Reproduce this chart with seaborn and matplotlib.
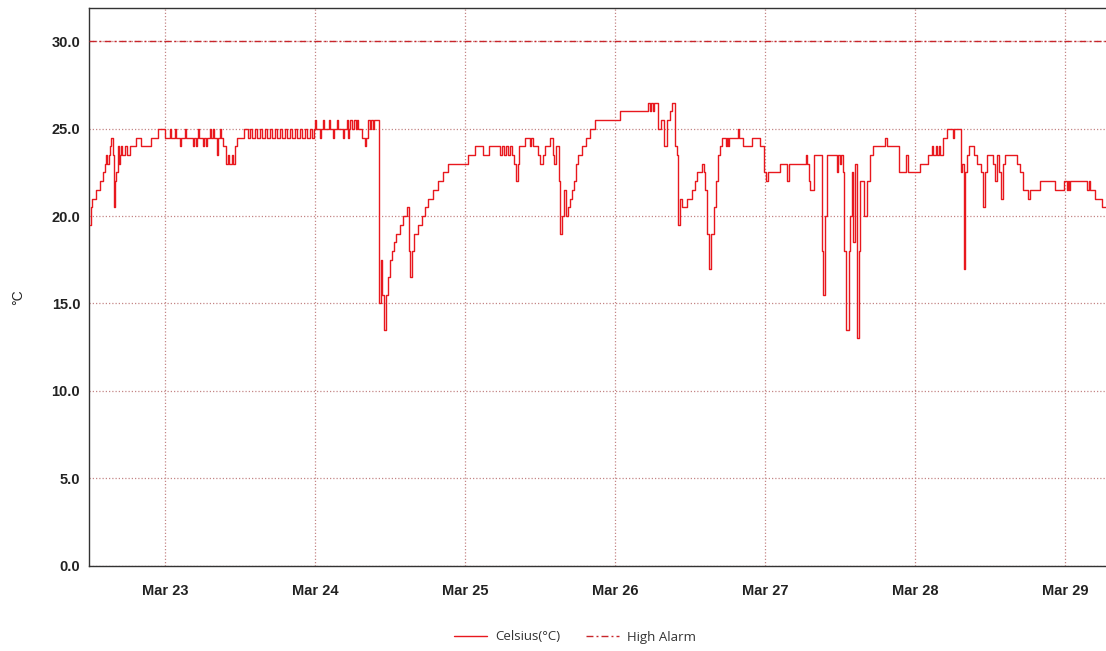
import matplotlib
matplotlib.use("Agg")
import matplotlib.pyplot as plt
import matplotlib.dates as mdates
import matplotlib.ticker as mticker
from matplotlib.lines import Line2D
import pandas as pd
import seaborn as sns

# ---------------- data ----------------
start_time = "2021-03-22 12:00"
# hours after start_time
hours = [
    0.0, 0.2, 0.4, 1.0, 1.6, 2.1, 2.4, 2.6, 2.8, 3.0, 3.2, 3.4, 3.7, 3.8, 4.0, 4.2, 4.5, 4.6, 4.8, 5.0,
    5.2, 5.6, 6.0, 6.4, 7.3, 8.2, 9.8, 10.9, 12.0,
    12.8, 13.0, 13.6, 13.8, 14.4, 14.6, 15.2, 15.4, 16.5, 16.6, 17.0, 17.1, 17.3, 17.4, 18.1, 18.2, 18.6, 18.7,
    19.2, 19.4, 19.7, 19.8, 20.3, 20.5, 20.8, 21.0, 21.3, 21.8, 22.1, 22.2, 22.7, 22.9, 23.2, 23.5, 24.6, 25.3,
    25.6, 25.9, 26.4, 26.7, 27.2, 27.5, 28.0, 28.3, 28.8, 29.1, 29.6, 29.9, 30.4, 30.7, 31.2, 31.5, 32.0, 32.3,
    32.8, 33.1, 33.6, 33.9, 34.4, 34.7, 35.2, 35.5, 35.8,
    36.0, 36.2, 36.8, 37.0, 37.3, 37.4, 38.2, 38.4, 38.9, 39.0, 39.5, 39.7, 40.5, 40.6, 41.1, 41.3, 41.4, 41.6,
    41.9, 42.2, 42.6, 42.7, 42.9, 43.5, 44.0, 44.2, 44.5, 44.8, 45.0, 45.3, 45.4,
    46.2, 46.6, 46.7, 47.0, 47.4, 47.7, 48.0, 48.3, 48.6, 49.0, 49.6, 50.1, 50.7, 51.0, 51.2, 51.5, 51.8, 52.5,
    53.1, 53.6, 54.1, 54.9, 55.7, 56.5, 57.3, 60.5, 61.6, 62.9, 63.8, 65.6, 65.9, 66.2, 66.6, 66.9, 67.2, 67.5,
    67.8, 68.2, 68.5, 68.6, 69.6, 70.4, 70.6, 70.9, 71.7, 72.0, 72.5, 72.8, 73.6, 74.1, 74.2, 74.6, 75.0, 75.2,
    75.5, 75.8, 76.2, 76.5, 76.8, 77.1, 77.4, 77.8, 78.1, 78.7, 79.4, 80.0, 80.8, 84.8,
    89.3, 89.6, 89.8, 90.1, 90.2, 90.9, 91.4, 91.8, 92.3, 92.8, 93.1, 93.6, 93.9,
    94.1, 94.4, 94.7, 95.5, 96.3, 96.8, 97.1, 98.0, 98.2, 98.5, 98.8, 99.0, 99.4, 99.8, 100.2, 100.5,
    100.8, 101.1, 101.8, 101.9, 102.1, 102.2, 103.7, 103.8, 104.5, 105.9, 107.2, 107.8, 108.2, 108.5,
    110.4, 111.5, 111.8, 114.6, 114.8, 115.0, 115.2, 115.8, 117.2, 117.3, 117.6, 117.9, 119.5, 119.7,
    120.0, 120.2, 120.5, 120.6, 121.0, 121.4, 121.6, 121.9, 122.1, 122.4, 122.7, 123.0, 123.3, 123.8,
    124.3, 124.8, 125.3, 127.2, 127.5, 129.4, 130.6, 130.9, 132.8, 134.1, 134.7, 134.9, 135.4, 135.5,
    135.8, 136.0, 136.5, 137.1, 138.1, 138.3, 139.4, 139.6, 139.8, 140.1, 140.3, 140.6, 141.4, 141.9,
    142.6, 142.9, 143.3, 143.6, 144.5, 144.8, 145.1, 145.4, 145.8, 146.1, 146.4, 148.3, 148.8, 149.3,
    150.1, 150.5, 152.0, 154.4, 155.8, 156.3, 156.5, 156.6, 156.8, 159.5, 159.8, 160.0, 160.8, 161.9, 162.6,
]
temps = [
    19.5, 20.5, 21.0, 21.5, 22.0, 22.5, 23.0, 23.5, 23.0, 23.5, 24.0, 24.5, 23.5, 20.5, 22.0, 22.5, 24.0, 23.0, 23.5, 24.0,
    23.5, 24.0, 23.5, 24.0, 24.5, 24.0, 24.5, 25.0, 24.5,
    25.0, 24.5, 25.0, 24.5, 24.0, 24.5, 25.0, 24.5, 24.0, 24.5, 24.0, 24.5, 25.0, 24.5, 24.0, 24.5, 24.0, 24.5,
    25.0, 24.5, 25.0, 24.5, 23.5, 24.5, 25.0, 24.5, 24.0, 23.0, 23.5, 23.0, 23.5, 23.0, 24.0, 24.5, 25.0, 24.5,
    25.0, 24.5, 25.0, 24.5, 25.0, 24.5, 25.0, 24.5, 25.0, 24.5, 25.0, 24.5, 25.0, 24.5, 25.0, 24.5, 25.0, 24.5,
    25.0, 24.5, 25.0, 24.5, 25.0, 24.5, 25.0, 24.5, 25.0,
    25.5, 25.0, 24.5, 25.0, 25.5, 25.0, 25.5, 25.0, 24.5, 25.0, 25.5, 25.0, 24.5, 25.0, 25.5, 24.5, 25.0, 25.5,
    25.0, 25.5, 25.0, 25.5, 25.0, 24.5, 24.0, 24.5, 25.5, 25.0, 25.5, 25.0, 25.5,
    15.0, 17.5, 15.5, 13.5, 15.5, 16.5, 17.5, 18.0, 18.5, 19.0, 19.5, 20.0, 20.5, 18.0, 16.5, 18.0, 19.0, 19.5,
    20.0, 20.5, 21.0, 21.5, 22.0, 22.5, 23.0, 23.5, 24.0, 23.5, 24.0, 23.5, 24.0, 23.5, 24.0, 23.5, 24.0, 23.5,
    23.0, 22.0, 23.0, 24.0, 24.5, 24.0, 24.5, 24.0, 23.5, 23.0, 23.5, 24.0, 24.5, 23.5, 23.0, 24.0, 22.0, 19.0,
    20.0, 21.5, 20.0, 20.5, 21.0, 21.5, 22.0, 23.0, 23.5, 24.0, 24.5, 25.0, 25.5, 26.0,
    26.5, 26.0, 26.5, 26.0, 26.5, 25.0, 25.5, 24.0, 25.5, 26.0, 26.5, 24.0, 23.5,
    19.5, 21.0, 20.5, 21.0, 21.5, 22.0, 22.5, 23.0, 22.5, 21.5, 19.0, 17.0, 19.0, 20.5, 22.0, 23.5,
    24.0, 24.5, 24.0, 24.5, 24.0, 24.5, 25.0, 24.5, 24.0, 24.5, 24.0, 22.5, 22.0, 22.5,
    23.0, 22.0, 23.0, 23.5, 23.0, 22.0, 21.5, 23.5, 18.0, 15.5, 20.0, 23.5, 22.5, 23.5,
    23.0, 23.5, 22.5, 18.0, 13.5, 18.0, 20.0, 22.5, 18.5, 23.0, 13.0, 18.0, 22.0, 20.0,
    22.0, 23.5, 24.0, 24.5, 24.0, 22.5, 23.5, 22.5, 23.0, 23.5, 24.0, 23.5, 24.0, 23.5,
    24.0, 23.5, 24.5, 25.0, 24.5, 25.0, 22.5, 23.0, 17.0, 22.5, 23.5, 24.0, 23.5, 23.0,
    22.5, 20.5, 22.5, 23.5, 23.0, 22.0, 23.5, 22.5, 21.0, 23.0, 23.5, 23.0, 22.5, 21.5,
    21.0, 21.5, 22.0, 21.5, 22.0, 21.5, 22.0, 21.5, 22.0, 21.5, 22.0, 21.5, 21.0, 20.5, 20.5,
]
alarm_level = 30.0
y_ticks = [0.0, 5.0, 10.0, 15.0, 20.0, 25.0, 30.0]
y_max = 31.9
series_label = "Celsius(°C)"
alarm_label = "High Alarm"
y_axis_label = "°C"

# ---------------- style ----------------
sns.set_style("white")
plt.rcParams["font.family"] = ["Liberation Sans", "DejaVu Sans"]

line_color = "#e8181e"
alarm_color = "#c8262b"
grid_color = "#c48686"
spine_color = "#333333"
alarm_dash = (0, (5, 2.2, 1.4, 2.2))

times = pd.Timestamp(start_time) + pd.to_timedelta(hours, unit="h")
df = pd.DataFrame({"time": times, "temp": temps})

fig = plt.figure(figsize=(11.06, 6.51), dpi=100)
ax = fig.add_axes([88.5 / 1106, 1 - 565.5 / 651, 1 - 88.5 / 1106, (565.5 - 8.3) / 651])

sns.lineplot(data=df, x="time", y="temp", ax=ax, color=line_color, lw=1.0,
             drawstyle="steps-post", estimator=None, sort=False, legend=False, zorder=3)
ax.axhline(alarm_level, color=alarm_color, lw=1.0, ls=alarm_dash, zorder=3)

ax.set_xlim(df["time"].min() - pd.Timedelta(hours=0.24), df["time"].max())
ax.set_ylim(0, y_max)
ax.set_yticks(y_ticks)
ax.yaxis.set_major_formatter(mticker.FormatStrFormatter("%.1f"))
ax.xaxis.set_major_locator(mdates.DayLocator())
ax.xaxis.set_major_formatter(mdates.DateFormatter("%b %d"))
ax.set_xlabel("")
ax.set_ylabel("")

ax.grid(True, color=grid_color, ls=(0, (1, 1.6)), lw=0.9, zorder=0)

for side in ["top", "left", "bottom"]:
    ax.spines[side].set_color(spine_color)
    ax.spines[side].set_linewidth(1.0)
ax.spines["right"].set_visible(False)

ax.tick_params(axis="x", direction="in", length=6, width=1, color=spine_color,
               pad=13, labelsize=10.5, labelcolor="#222222")
ax.tick_params(axis="y", direction="out", length=3, width=1, color=spine_color,
               pad=3, labelsize=10.5, labelcolor="#222222")
for lab in ax.get_xticklabels() + ax.get_yticklabels():
    lab.set_fontweight("bold")

fig.text(18 / 1106, 1 - 297 / 651, y_axis_label, rotation=90, ha="center", va="center",
         fontsize=10, color="#222222")

handles = [Line2D([], [], color=line_color, lw=1.0),
           Line2D([], [], color=alarm_color, lw=1.0, ls=alarm_dash)]
fig.legend(handles, [series_label, alarm_label], loc="center",
           bbox_to_anchor=(575 / 1106, 1 - 637 / 651), ncol=2, frameon=False,
           handlelength=2.5, handletextpad=0.65, columnspacing=1.9,
           prop={"family": ["Open Sans", "DejaVu Sans"], "size": 9.5}, labelcolor="#333333")

fig.savefig("out.png", dpi=100, facecolor="white")
